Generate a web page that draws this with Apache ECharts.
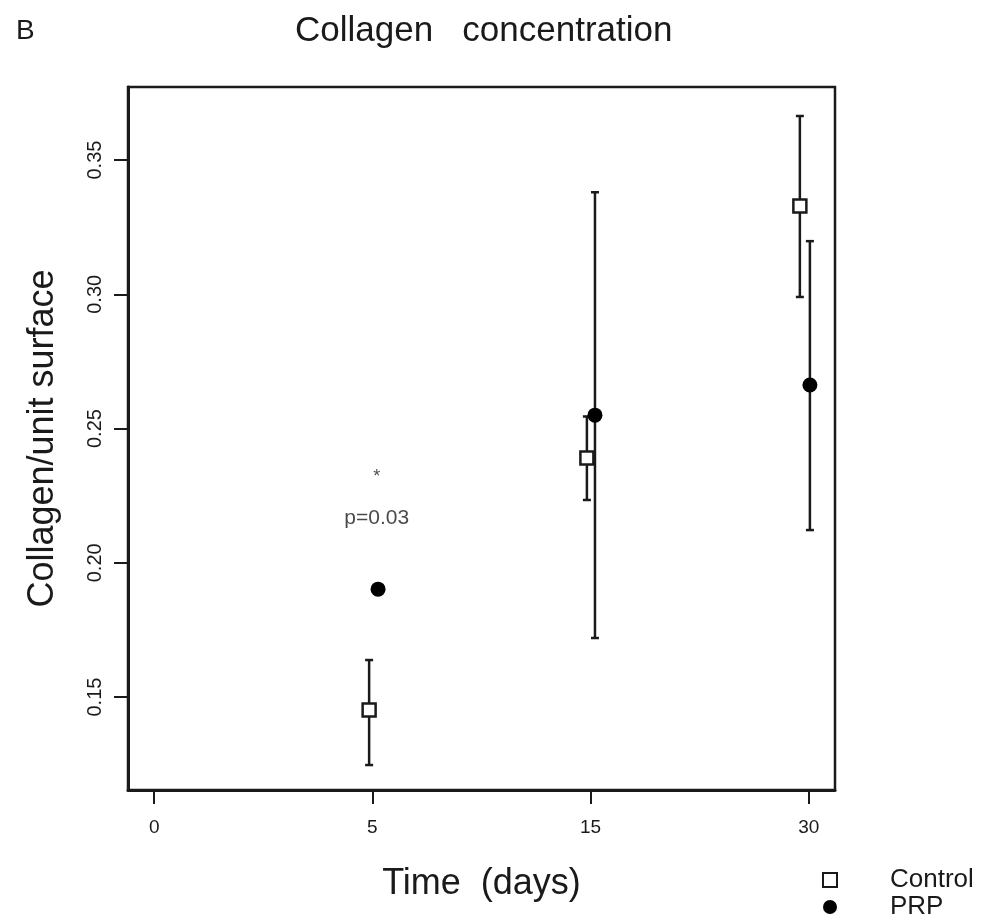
<!DOCTYPE html>
<html>
<head>
<meta charset="utf-8">
<script src="https://cdn.jsdelivr.net/npm/echarts@6/dist/echarts.min.js"></script>
<style>html,body{margin:0;padding:0;background:#fff;}#c{width:993px;height:922px;}</style>
</head>
<body>
<div id="c"></div>
<script>
// ---- data ----
const dayLabels = ['0', '5', '15', '30'];
const dayIndex = [0, 1, 2, 3];
const ctrlX = [0.985, 1.983, 2.959];
const ctrlMean = [0.1452, 0.2390, 0.3329];
const ctrlLow = [0.1247, 0.2234, 0.2990];
const ctrlHigh = [0.1638, 0.2545, 0.3664];
const prpX = [1.026, 2.02, 3.005];
const prpMean = [0.1902, 0.2550, 0.2662];
const prpLow = [null, 0.1720, 0.2122];
const prpHigh = [null, 0.3380, 0.3198];
const yTicks = [0.15, 0.20, 0.25, 0.30, 0.35];
const annX = [1.02, 1.02];
const annY = [0.2319, 0.2165];
const annText = ['*', 'p=0.03'];

const FONT = "'Liberation Sans', Arial, Helvetica, sans-serif";
const INK = '#1a1a1a';

function errData(xs, lo, hi) {
  const out = [];
  for (let i = 0; i < xs.length; i++) {
    if (lo[i] != null && hi[i] != null) out.push([xs[i], lo[i], hi[i]]);
  }
  return out;
}

function errRender(params, api) {
  const x = api.value(0);
  const p1 = api.coord([x, api.value(1)]);
  const p2 = api.coord([x, api.value(2)]);
  const cw = 4;
  const st = { stroke: INK, lineWidth: 2.5 };
  return {
    type: 'group',
    children: [
      { type: 'line', shape: { x1: p1[0], y1: p1[1], x2: p2[0], y2: p2[1] }, style: st },
      { type: 'line', shape: { x1: p1[0] - cw, y1: p1[1], x2: p1[0] + cw, y2: p1[1] }, style: st },
      { type: 'line', shape: { x1: p2[0] - cw, y1: p2[1], x2: p2[0] + cw, y2: p2[1] }, style: st }
    ]
  };
}

const chart = echarts.init(document.getElementById('c'), null, { renderer: 'canvas' });
chart.setOption({
  backgroundColor: '#fff',
  animation: false,
  title: [
    { text: 'Collagen   concentration', left: 290, top: 9,
      textStyle: { fontFamily: FONT, fontSize: 35, fontWeight: 'normal', color: INK } },
    { text: 'B', left: 11, top: 12,
      textStyle: { fontFamily: FONT, fontSize: 28, fontWeight: 'normal', color: INK } }
  ],
  legend: {
    orient: 'vertical', left: 822, top: 867, padding: 0, itemWidth: 14, itemHeight: 14, itemGap: 1,
    data: ['Control', 'PRP'],
    textStyle: { fontFamily: FONT, fontSize: 26, lineHeight: 24, color: INK, padding: [0, 0, 0, 48] }
  },
  grid: { left: 128, top: 87, right: 158, bottom: 132, show: true, borderColor: INK, borderWidth: 2.5, backgroundColor: '#fff' },
  xAxis: {
    type: 'value', min: -0.12, max: 3.12,
    name: 'Time  (days)', nameLocation: 'middle', nameGap: 76,
    nameTextStyle: { fontFamily: FONT, fontSize: 36, color: INK },
    splitLine: { show: false },
    axisLine: { show: true, onZero: false, lineStyle: { color: INK, width: 3 } },
    axisTick: { show: true, length: 14, customValues: dayIndex, lineStyle: { color: INK, width: 2 } },
    axisLabel: { customValues: dayIndex, margin: 28, fontFamily: FONT, fontSize: 19, color: INK,
      formatter: v => dayLabels[Math.round(v)] }
  },
  yAxis: {
    type: 'value', min: 0.1154, max: 0.3772,
    name: 'Collagen/unit surface', nameLocation: 'middle', nameGap: 67,
    nameTextStyle: { fontFamily: FONT, fontSize: 36, color: INK },
    splitLine: { show: false },
    axisLine: { show: true, onZero: false, lineStyle: { color: INK, width: 3 } },
    axisTick: { show: true, length: 14, customValues: yTicks, lineStyle: { color: INK, width: 2 } },
    axisLabel: { customValues: yTicks, rotate: 90, margin: 23, fontFamily: FONT, fontSize: 20, color: INK,
      formatter: v => v.toFixed(2) }
  },
  series: [
    { type: 'custom', name: 'ctrlErr', renderItem: errRender, data: errData(ctrlX, ctrlLow, ctrlHigh), z: 2 },
    { type: 'custom', name: 'prpErr', renderItem: errRender, data: errData(prpX, prpLow, prpHigh), z: 2 },
    { type: 'scatter', name: 'Control', symbol: 'rect', symbolSize: 13, z: 5,
      itemStyle: { color: '#fff', borderColor: INK, borderWidth: 2.5, opacity: 1 },
      data: ctrlX.map((x, i) => [x, ctrlMean[i]]) },
    { type: 'scatter', name: 'PRP', symbol: 'circle', symbolSize: 15, z: 6,
      itemStyle: { color: '#000', opacity: 1 },
      data: prpX.map((x, i) => [x, prpMean[i]]) },
    { type: 'scatter', name: 'annot', symbolSize: 0, z: 7, silent: true,
      label: { show: true, position: 'inside', fontFamily: FONT, color: INK,
        formatter: p => annText[p.dataIndex] },
      data: annX.map((x, i) => ({ value: [x, annY[i]],
        label: { fontSize: i === 0 ? 18 : 21 } })) }
  ]
});
</script>
</body>
</html>
